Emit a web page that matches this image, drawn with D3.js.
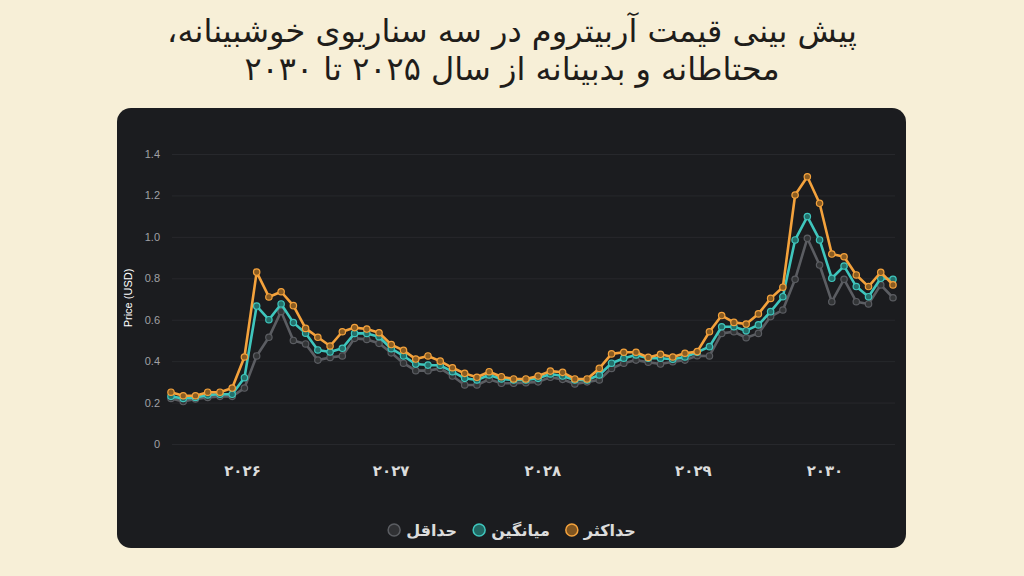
<!DOCTYPE html>
<html>
<head>
<meta charset="utf-8">
<script src="https://cdn.jsdelivr.net/npm/d3@7"></script>
<style>
  html, body { margin: 0; padding: 0; background: #f7efd7; }
  svg { display: block; }
</style>
</head>
<body>
<div id="chart"></div>
<script>
// Persian chart title, two lines
const titleLines = [
  'پیش بینی قیمت آربیتروم در سه سناریوی خوشبینانه،',
  'محتاطانه و بدبینانه از سال ۲۰۲۵ تا ۲۰۳۰'
];

// x axis: one point per step, year labels sit between steps
const yearLabels = ['۲۰۲۶', '۲۰۲۷', '۲۰۲۸', '۲۰۲۹', '۲۰۳۰'];
const yearTickAt = [5.8, 17.95, 30.35, 42.65, 53.4];

const yTicks = [0, 0.2, 0.4, 0.6, 0.8, 1.0, 1.2, 1.4];

// series values (USD)
const maxValues = [
  0.25, 0.233, 0.233, 0.25, 0.25, 0.27, 0.42, 0.83, 0.71, 0.735,
  0.668, 0.558, 0.515, 0.473, 0.542, 0.562, 0.555, 0.537, 0.48, 0.452,
  0.41, 0.425, 0.40, 0.368, 0.341, 0.322, 0.349, 0.325, 0.314, 0.314,
  0.328, 0.352, 0.346, 0.314, 0.314, 0.365, 0.435, 0.443, 0.443, 0.418,
  0.433, 0.42, 0.438, 0.446, 0.542, 0.62, 0.587, 0.579, 0.628, 0.703,
  0.757, 1.202, 1.29, 1.162, 0.917, 0.904, 0.816, 0.76, 0.829, 0.768
];
const avgValues = [
  0.23, 0.22, 0.225, 0.237, 0.24, 0.24, 0.32, 0.666, 0.60, 0.676,
  0.586, 0.535, 0.454, 0.444, 0.462, 0.534, 0.534, 0.518, 0.46, 0.425,
  0.386, 0.381, 0.38, 0.349, 0.317, 0.309, 0.333, 0.314, 0.309, 0.309,
  0.317, 0.338, 0.328, 0.309, 0.309, 0.333, 0.39, 0.414, 0.43, 0.414,
  0.414, 0.409, 0.42, 0.443, 0.47, 0.566, 0.566, 0.547, 0.575, 0.639,
  0.711, 0.985, 1.098, 0.985, 0.80, 0.859, 0.76, 0.711, 0.80, 0.795
];
const minValues = [
  0.22, 0.205, 0.217, 0.225, 0.23, 0.23, 0.27, 0.425, 0.515, 0.64,
  0.50, 0.483, 0.405, 0.418, 0.425, 0.51, 0.505, 0.486, 0.44, 0.39,
  0.354, 0.354, 0.365, 0.328, 0.285, 0.285, 0.312, 0.293, 0.293, 0.296,
  0.30, 0.322, 0.312, 0.29, 0.30, 0.309, 0.365, 0.39, 0.405, 0.395,
  0.386, 0.397, 0.405, 0.426, 0.425, 0.534, 0.542, 0.513, 0.534, 0.615,
  0.647, 0.795, 0.993, 0.864, 0.687, 0.795, 0.687, 0.676, 0.768, 0.706
];

const seriesNames = ['حداکثر', 'میانگین', 'حداقل'];
const seriesColors = ['#f4a23c', '#3fc6bd', '#5b5d62'];

const W = 1024, H = 576;
const card = { x: 117, y: 108, w: 789, h: 440, r: 14 };
const plot = { left: 171, right: 893, top: 154, bottom: 444 };

const svg = d3.select('#chart').append('svg')
  .attr('width', W).attr('height', H);

svg.append('rect').attr('width', W).attr('height', H).attr('fill', '#f7efd7');

// title
svg.append('g').selectAll('text').data(titleLines).enter().append('text')
  .attr('x', W / 2)
  .attr('y', (d, i) => 42 + i * 38)
  .attr('text-anchor', 'middle')
  .attr('direction', 'rtl')
  .attr('font-family', 'DejaVu Sans, sans-serif')
  .attr('font-size', 32)
  .attr('fill', '#1f1d1a')
  .text(d => d);

svg.append('rect')
  .attr('x', card.x).attr('y', card.y)
  .attr('width', card.w).attr('height', card.h)
  .attr('rx', card.r).attr('ry', card.r)
  .attr('fill', '#1b1c1f');

const x = d3.scaleLinear().domain([0, maxValues.length - 1]).range([plot.left, plot.right]);
const y = d3.scaleLinear().domain([0, 1.4]).range([plot.bottom, plot.top]);

// grid + y axis
const yAxis = d3.axisLeft(y)
  .tickValues(yTicks)
  .tickSize(-(895 - 172))
  .tickPadding(12)
  .tickFormat(d => d === 0 ? '0' : d3.format('.1f')(d));

const gy = svg.append('g').attr('transform', 'translate(172,0)').call(yAxis);
gy.select('.domain').remove();
gy.selectAll('.tick line').attr('stroke', '#27282c').attr('stroke-width', 1);
gy.selectAll('.tick text')
  .attr('fill', '#a0a1a5')
  .attr('font-family', 'Liberation Sans, Arial, sans-serif')
  .attr('font-size', 11);

svg.append('text')
  .attr('transform', 'translate(132,298) rotate(-90)')
  .attr('text-anchor', 'middle')
  .attr('font-family', 'Liberation Sans, Arial, sans-serif')
  .attr('font-size', 11)
  .attr('fill', '#ffffff')
  .text('Price (USD)');

// x axis (labels only)
const xAxis = d3.axisBottom(x)
  .tickValues(yearTickAt)
  .tickSize(0)
  .tickPadding(0)
  .tickFormat((d, i) => yearLabels[i]);

const gx = svg.append('g').attr('transform', 'translate(0,476)').call(xAxis);
gx.select('.domain').remove();
gx.selectAll('.tick text')
  .attr('dy', 0)
  .attr('fill', '#dcdcdc')
  .attr('font-family', 'DejaVu Sans, sans-serif')
  .attr('font-weight', 'bold')
  .attr('font-size', 15);

// lines, drawn bottom to top: min, avg, max
const series = [
  { name: seriesNames[2], color: seriesColors[2], values: minValues },
  { name: seriesNames[1], color: seriesColors[1], values: avgValues },
  { name: seriesNames[0], color: seriesColors[0], values: maxValues }
];

const line = d3.line()
  .x((d, i) => x(i))
  .y(d => y(d));

const gs = svg.append('g').selectAll('g').data(series).enter().append('g');

gs.append('path')
  .attr('d', d => line(d.values))
  .attr('fill', 'none')
  .attr('stroke', d => d.color)
  .attr('stroke-width', 2.6)
  .attr('stroke-linejoin', 'round');

gs.each(function (s) {
  d3.select(this).selectAll('circle').data(s.values).enter().append('circle')
    .attr('cx', (d, i) => x(i))
    .attr('cy', d => y(d))
    .attr('r', 3.2)
    .attr('fill', d3.color(s.color).darker(1.6))
    .attr('stroke', s.color)
    .attr('stroke-width', 1.2);
});

// legend, right to left: max, avg, min
const legend = svg.append('g');
const items = legend.selectAll('g').data(seriesNames.map((n, i) => ({ name: n, color: seriesColors[i] })))
  .enter().append('g');

items.append('circle')
  .attr('r', 6)
  .attr('fill', d => d3.color(d.color).darker(1.8))
  .attr('stroke', d => d.color)
  .attr('stroke-width', 1.5);

items.append('text')
  .attr('x', 12)
  .attr('dy', '0.35em')
  .attr('text-anchor', 'start')
  .attr('font-family', 'DejaVu Sans, sans-serif')
  .attr('font-weight', 'bold')
  .attr('font-size', 16)
  .attr('fill', '#dcdcdc')
  .text(d => d.name);

const widths = [];
items.each(function () { widths.push(12 + d3.select(this).select('text').node().getComputedTextLength() + 6); });
const gap = 16;
const total = d3.sum(widths) + gap * (widths.length - 1);
let cursor = W / 2 + total / 2;
items.each(function (d, i) {
  cursor -= widths[i];
  d3.select(this).attr('transform', `translate(${cursor + 6},530)`);
  cursor -= gap;
});
</script>
</body>
</html>
